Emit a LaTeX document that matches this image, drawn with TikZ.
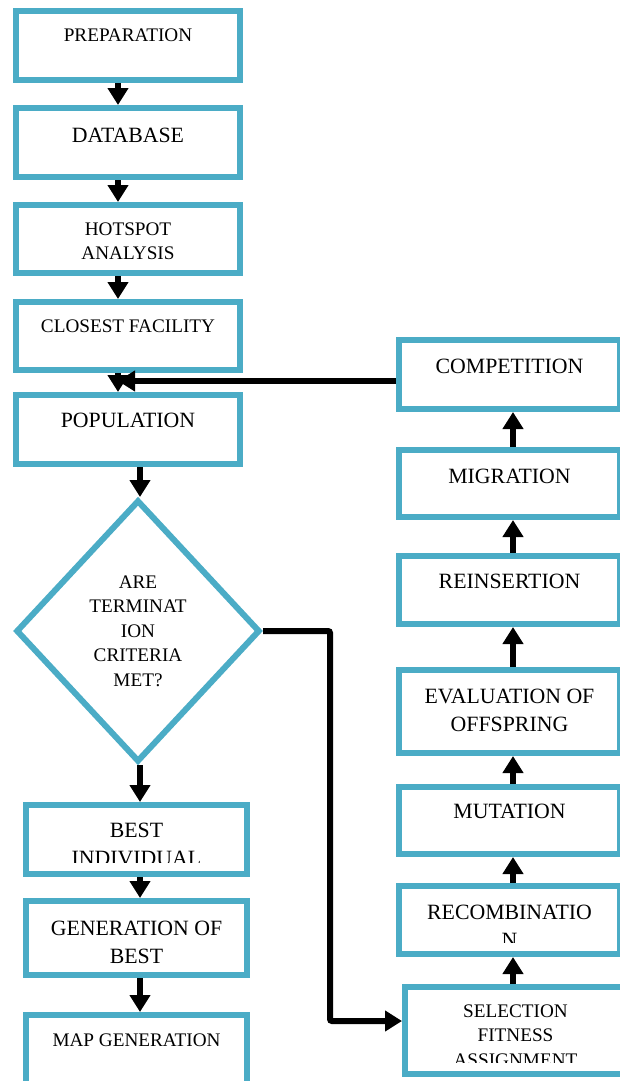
\documentclass[tikz,border=0pt]{standalone}
\usepackage{fontspec}
\setmainfont{Liberation Serif}
\usetikzlibrary{arrows.meta,shapes.geometric}
\definecolor{boxblue}{HTML}{4BACC6}
\newcommand{\bigtxt}{\fontsize{21.8}{28}\selectfont}
\newcommand{\smalltxt}{\fontsize{19.2}{24.5}\selectfont}

\tikzset{
  flowbox/.style={rectangle, draw=boxblue, line width=6pt, fill=white, inner sep=0pt},
  boxtext/.style n args={3}{path picture={
      \clip ([shift={(4pt,12pt)}]path picture bounding box.south west)
        rectangle ([shift={(-4pt,-4pt)}]path picture bounding box.north east);
      \node[anchor=base, inner sep=0pt, font=#1]
        at ([yshift=-#2]path picture bounding box.north)
        {\begin{tabular}[t]{@{}c@{}}#3\end{tabular}};}},
  arr/.style={line width=6pt, -{Triangle[length=17pt,width=20pt]}},
}

\begin{document}
\begin{tikzpicture}[x=1pt, y=-1pt]
    \useasboundingbox (0,0) rectangle (620,1081);

    % left column
    \node[flowbox, minimum width=224pt, minimum height=69pt, boxtext={\smalltxt}{31pt}{PREPARATION}] (prep)  at (128,45.5) {};
    \node[flowbox, minimum width=224pt, minimum height=69pt, boxtext={\bigtxt}{34pt}{DATABASE}]      (db)    at (128,142.5) {};
    \node[flowbox, minimum width=224pt, minimum height=68pt, boxtext={\smalltxt}{30pt}{HOTSPOT\\ANALYSIS}] (hot) at (128,239) {};
    \node[flowbox, minimum width=224pt, minimum height=68pt, boxtext={\smalltxt}{30pt}{CLOSEST FACILITY}] (close) at (128,336) {};
    \node[flowbox, minimum width=224pt, minimum height=69pt, boxtext={\bigtxt}{32pt}{POPULATION}]    (pop)   at (128,429.5) {};

    \node[diamond, draw=boxblue, line width=6pt, fill=white, inner sep=0pt,
          minimum width=244pt, minimum height=262pt, align=center, font=\smalltxt] (dec) at (138,631)
          {ARE\\TERMINAT\\ION\\CRITERIA\\MET?};

    \node[flowbox, minimum width=221pt, minimum height=69pt, boxtext={\bigtxt}{32pt}{BEST\\INDIVIDUAL}] (best) at (136.5,839.5) {};
    \node[flowbox, minimum width=221pt, minimum height=74pt, boxtext={\bigtxt}{34pt}{GENERATION OF\\BEST}] (gen) at (136.5,938) {};
    \node[flowbox, minimum width=221pt, minimum height=75pt, boxtext={\smalltxt}{31pt}{MAP GENERATION}] (map) at (136.5,1052.5) {};

    % right column
    \node[flowbox, minimum width=221pt, minimum height=69pt, boxtext={\bigtxt}{33pt}{COMPETITION}] (comp)  at (509.5,374.5) {};
    \node[flowbox, minimum width=221pt, minimum height=67pt, boxtext={\bigtxt}{33pt}{MIGRATION}]   (mig)   at (509.5,483.5) {};
    \node[flowbox, minimum width=221pt, minimum height=68pt, boxtext={\bigtxt}{32pt}{REINSERTION}] (reins) at (509.5,590) {};
    \node[flowbox, minimum width=221pt, minimum height=83pt, boxtext={\bigtxt}{33pt}{EVALUATION OF\\OFFSPRING}] (eval) at (509.5,711.5) {};
    \node[flowbox, minimum width=221pt, minimum height=67pt, boxtext={\bigtxt}{31pt}{MUTATION}]    (mut)   at (509.5,820.5) {};
    \node[flowbox, minimum width=221pt, minimum height=68pt, boxtext={\bigtxt}{33pt}{RECOMBINATIO\\N}] (rec) at (509.5,920) {};
    \node[flowbox, minimum width=221pt, minimum height=87pt, boxtext={\smalltxt}{30pt}{SELECTION\\FITNESS\\ASSIGNMENT}] (sel) at (515.5,1030.5) {};

    \coordinate (merge) at (118,381);

    % arrows
    \draw[arr] ([xshift=-10pt]prep.south)  -- ([xshift=-10pt]db.north);
    \draw[arr] ([xshift=-10pt]db.south)    -- ([xshift=-10pt]hot.north);
    \draw[arr] ([xshift=-10pt]hot.south)   -- ([xshift=-10pt]close.north);
    \draw[arr] ([xshift=-10pt]close.south) -- ([xshift=-10pt]pop.north);
    \draw[arr] ([yshift=-6.5pt]comp.west) -- (merge);
    \draw[arr] ([xshift=12pt]pop.south) -- ([xshift=12pt]pop.south |- dec.north);
    \draw[arr] ([xshift=2pt]dec.south) -- ([xshift=2pt]dec.south |- best.north);
    \draw[arr] ([xshift=3.5pt]best.south) -- ([xshift=3.5pt]gen.north);
    \draw[arr] ([xshift=3.5pt]gen.south) -- ([xshift=3.5pt]map.north);
    \foreach \a/\b in {sel/rec, rec/mut, mut/eval, eval/reins, reins/mig, mig/comp}
      \draw[arr] ([xshift=3.5pt]\b.south |- \a.north) -- ([xshift=3.5pt]\b.south);
    \draw[arr, rounded corners=2pt] (dec.east) -| ([xshift=-72pt,yshift=9.5pt]sel.west) -- ([yshift=9.5pt]sel.west);

  \end{tikzpicture}
\end{document}
